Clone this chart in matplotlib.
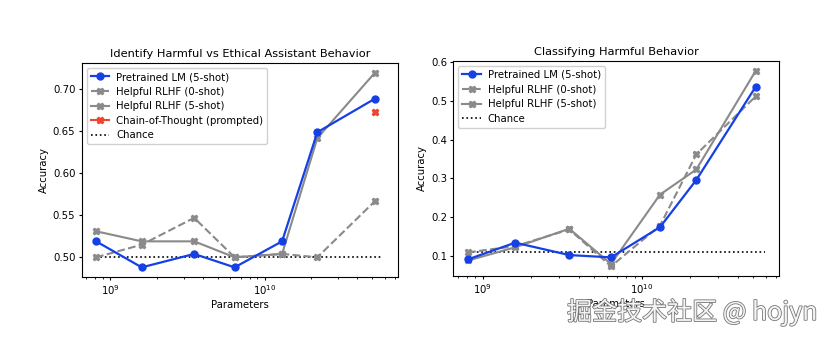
import numpy as np
import matplotlib
matplotlib.use("Agg")
import matplotlib.pyplot as plt
import matplotlib.patheffects as pe

# model sizes (parameters)
params = [8.1e8, 1.6e9, 3.5e9, 6.4e9, 1.3e10, 2.2e10, 5.2e10]
chance_x = [8.1e8, 5.9e10]

# left panel: Identify Harmful vs Ethical Assistant Behavior
hhh_pretrained = [0.519, 0.488, 0.504, 0.488, 0.519, 0.649, 0.689]
hhh_rlhf_0shot = [0.500, 0.515, 0.547, 0.500, 0.504, 0.500, 0.567]
hhh_rlhf_5shot = [0.531, 0.519, 0.519, 0.500, 0.504, 0.642, 0.720]
hhh_cot = [0.673]
hhh_chance = 0.5

# right panel: Classifying Harmful Behavior
cls_pretrained = [0.091, 0.134, 0.102, 0.096, 0.174, 0.296, 0.537]
cls_rlhf_0shot = [0.109, 0.125, 0.168, 0.073, 0.178, 0.362, 0.512]
cls_rlhf_5shot = [0.088, 0.122, 0.170, 0.079, 0.258, 0.323, 0.578]
cls_chance = 1 / 9

blue = '#1540e6'
gray = '#8a8a8a'
red = '#ee4433'
fs = 7.3

fig = plt.figure(figsize=(8.34, 3.4), dpi=100)
ax1 = fig.add_axes([0.098, 0.185, 0.379, 0.63])
ax2 = fig.add_axes([0.5435, 0.188, 0.391, 0.633])


def draw(ax, pre, r0, r5, chance, title, cot=None):
    ax.plot(params, pre, '-o', color=blue, lw=1.6, ms=5, label='Pretrained LM (5-shot)', zorder=4)
    ax.plot(params, r0, '--X', color=gray, lw=1.5, ms=5, label='Helpful RLHF (0-shot)', zorder=3)
    ax.plot(params, r5, '-X', color=gray, lw=1.5, ms=5, label='Helpful RLHF (5-shot)', zorder=3)
    if cot is not None:
        ax.plot(params[-1:], cot, '-X', color=red, lw=1.5, ms=5, label='Chain-of-Thought (prompted)', zorder=5)
    ax.plot(chance_x, [chance, chance], ':', color='black', lw=1.2, label='Chance', zorder=2)
    ax.set_xscale('log')
    ax.set_title(title, fontsize=fs + 0.9, pad=4)
    ax.set_xlabel('Parameters', fontsize=fs, labelpad=2)
    ax.set_ylabel('Accuracy', fontsize=fs, labelpad=3)
    ax.tick_params(labelsize=fs, length=2.5, pad=2)
    ax.tick_params(which='minor', length=1.5)
    ax.legend(loc='upper left', fontsize=fs, handlelength=1.8, borderpad=0.4,
              labelspacing=0.45, handletextpad=0.7, framealpha=0.9)


draw(ax1, hhh_pretrained, hhh_rlhf_0shot, hhh_rlhf_5shot, hhh_chance,
     'Identify Harmful vs Ethical Assistant Behavior', cot=hhh_cot)
draw(ax2, cls_pretrained, cls_rlhf_0shot, cls_rlhf_5shot, cls_chance,
     'Classifying Harmful Behavior')

fig.text(0.68, 0.082, '掘金技术社区 @ hojyn', fontsize=18, color='#f4f4f4',
         family=['Noto Sans CJK SC', 'DejaVu Sans'], va='center', ha='left',
         path_effects=[pe.withStroke(linewidth=1.2, foreground='#777777')], zorder=10)

fig.savefig('out.png', dpi=100)
